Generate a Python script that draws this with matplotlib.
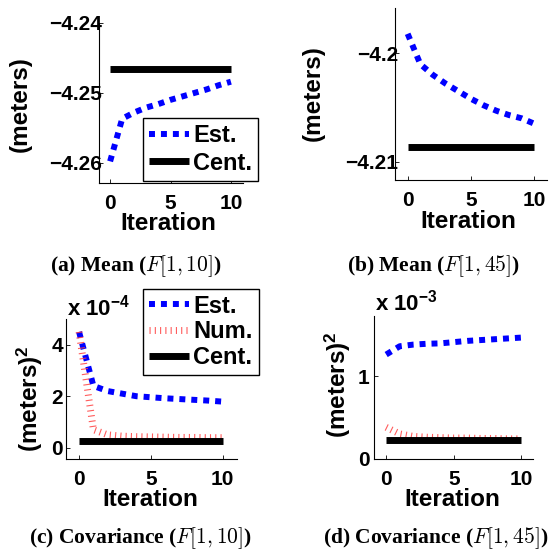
import matplotlib
matplotlib.use("Agg")
import matplotlib.pyplot as plt

plt.rcParams['font.family'] = ['Liberation Sans', 'DejaVu Sans']
plt.rcParams['font.weight'] = 'bold'
plt.rcParams['mathtext.fontset'] = 'custom'
plt.rcParams['mathtext.rm'] = 'Liberation Sans:bold'
plt.rcParams['mathtext.bf'] = 'Liberation Sans:bold'
plt.rcParams['mathtext.it'] = 'Liberation Sans:bold:italic'
plt.rcParams['axes.unicode_minus'] = True

# ---------------- data ----------------
iterations = [0, 1, 2, 3, 4, 5, 6, 7, 8, 9, 10]
cent_x = [0, 10]

mean_est_a = [-4.2598, -4.2537, -4.2528, -4.2521, -4.2516, -4.2510, -4.2505, -4.2500, -4.2495, -4.2489, -4.2484]
mean_cent_a = -4.2466

mean_est_b = [-4.1982, -4.2010, -4.2020, -4.2028, -4.2035, -4.2042, -4.2048, -4.2053, -4.2057, -4.2060, -4.2065]
mean_cent_b = -4.20865

scale_c = 1e-4
cov_est_c = [4.5, 2.4, 2.2, 2.1, 2.0, 1.96, 1.92, 1.89, 1.86, 1.83, 1.79]
cov_num_c = [4.5, 0.7, 0.5, 0.45, 0.43, 0.42, 0.41, 0.40, 0.40, 0.39, 0.39]
cov_cent_c = 0.28

scale_d = 1e-3
cov_est_d = [1.26, 1.36, 1.38, 1.39, 1.395, 1.41, 1.425, 1.435, 1.445, 1.455, 1.465]
cov_num_d = [0.38, 0.30, 0.27, 0.26, 0.255, 0.25, 0.25, 0.245, 0.245, 0.24, 0.24]
cov_cent_d = 0.225

xticks = [0, 5, 10]
yticks_a = [-4.26, -4.25, -4.24]
yticks_b = [-4.21, -4.2]
yticks_c = [0, 2, 4]
yticks_d = [0, 1]

captions = [r'(a) Mean ($F[1,10]$)', r'(b) Mean ($F[1,45]$)',
            r'(c) Covariance ($F[1,10]$)', r'(d) Covariance ($F[1,45]$)']

# ---------------- figure ----------------
W, H = 550, 552
fig = plt.figure(figsize=(5.5, 5.52), dpi=100)

def add_ax(l, r, t, b):
    return fig.add_axes([l / W, 1 - b / H, (r - l) / W, (b - t) / H])

EST = dict(color=(0, 0, 1), lw=4.3, linestyle=(0, (1, 1)), dash_capstyle='butt', solid_capstyle='butt')
NUM = dict(color=(1, 0.25, 0.25), alpha=0.85, lw=5, linestyle=(0, (0.16, 0.6)), dash_capstyle='butt')
CENT = dict(color='black', lw=5, solid_capstyle='butt')

TICK_FS = 15
LAB_FS = 17.5
LEG_FS = 17

def style(ax, ypad=-2.5):
    ax.spines['top'].set_visible(False)
    ax.spines['right'].set_visible(False)
    for s in ('left', 'bottom'):
        ax.spines[s].set_linewidth(0.8)
    ax.tick_params(direction='in', length=3, width=0.6, labelsize=TICK_FS)
    ax.tick_params(axis='x', pad=8)
    ax.tick_params(axis='y', pad=ypad)
    ax.set_xticks(xticks)
    ax.set_xticklabels([str(v) for v in xticks])

def legend(ax, x, y, labelspacing):
    lg = ax.legend(loc='upper left', bbox_to_anchor=(x / W, 1 - y / H),
                   bbox_transform=fig.transFigure, borderaxespad=0,
                   fontsize=LEG_FS, frameon=True, fancybox=False, framealpha=1,
                   edgecolor='black', handlelength=1.7, handletextpad=0.2,
                   borderpad=0.25, labelspacing=labelspacing)
    lg.get_frame().set_linewidth(1.0)
    lg.set_zorder(10)
    return lg

# (a)
ax = add_ax(99, 243, 23, 183)
ax.plot(iterations, mean_est_a, label='Est.', **EST)
ax.plot(cent_x, [mean_cent_a] * 2, label='Cent.', **CENT)
ax.set_xlim(-0.92, 11)
ax.set_ylim(-4.2629, -4.2400)
style(ax)
ax.set_yticks(yticks_a)
ax.set_yticklabels(['\u22124.26', '\u22124.25', '\u22124.24'])
legend(ax, 142.7, 118, 0.2)

# (b)
ax = add_ax(395, 547, 8, 180)
ax.plot(iterations, mean_est_b, **EST)
ax.plot(cent_x, [mean_cent_b] * 2, **CENT)
ax.set_xlim(-1.0, 11)
ax.set_ylim(-4.21169, -4.19582)
style(ax)
ax.set_yticks(yticks_b)
ax.set_yticklabels(['\u22124.21', '\u22124.2'])

# (c)
ax = add_ax(65.7, 237, 319, 459.3)
ax.plot(iterations, [v * scale_c for v in cov_est_c], label='Est.', **EST)
ax.plot(iterations, [v * scale_c for v in cov_num_c], label='Num.', **NUM)
ax.plot(cent_x, [cov_cent_c * scale_c] * 2, label='Cent.', **CENT)
ax.set_xlim(-0.93, 11)
ax.set_ylim(-0.45 * scale_c, 5.0 * scale_c)
style(ax, ypad=2)
ax.set_yticks([v * scale_c for v in yticks_c])
ax.set_yticklabels([str(v) for v in yticks_c])
legend(ax, 142.7, 288.7, 0.12)

# (d)
ax = add_ax(374, 533, 316, 458.7)
ax.plot(iterations, [v * scale_d for v in cov_est_d], **EST)
ax.plot(iterations, [v * scale_d for v in cov_num_d], **NUM)
ax.plot(cent_x, [cov_cent_d * scale_d] * 2, **CENT)
ax.set_xlim(-0.9, 10.85)
ax.set_ylim(0, 1.726 * scale_d)
style(ax, ypad=3)
ax.set_yticks([v * scale_d for v in yticks_d])
ax.set_yticklabels([str(v) for v in yticks_d])

# labels
def ftext(x, y, s, **kw):
    fig.text(x / W, 1 - y / H, s, ha='center', va='center', **kw)

for (x, y) in [(168, 224), (468, 222), (150, 500), (452, 500)]:
    ftext(x, y, 'Iteration', fontsize=LAB_FS)
ftext(20, 104, '(meters)', fontsize=LAB_FS, rotation=90)
ftext(313, 93, '(meters)', fontsize=LAB_FS, rotation=90)
ftext(30, 399, r'(meters)$^{2}$', fontsize=LAB_FS, rotation=90)
ftext(338, 385, r'(meters)$^{2}$', fontsize=LAB_FS, rotation=90)

fig.text(67 / W, 1 - 308 / H, r'x 10$^{-4}$', fontsize=16, ha='left', va='center')
fig.text(375 / W, 1 - 303 / H, r'x 10$^{-3}$', fontsize=16, ha='left', va='center')

for (x, y), s in zip([(136, 271.5), (433.5, 271.5), (140, 543.5), (436, 543.5)], captions):
    fig.text(x / W, 1 - y / H, s, ha='center', va='baseline', fontsize=15.5,
             family='Liberation Serif', weight='bold', math_fontfamily='cm')

fig.savefig('out.png', dpi=100)
